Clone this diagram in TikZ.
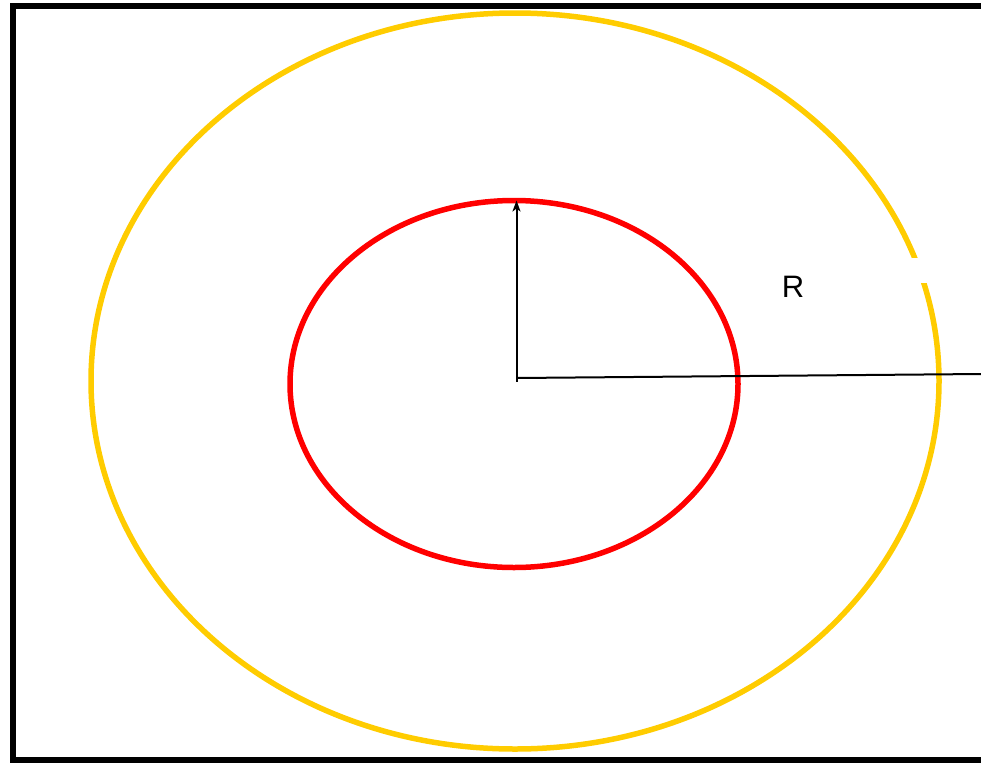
\documentclass[tikz,border=0pt]{standalone}
\usepackage{fontspec}
\setmainfont{Liberation Sans}
\usetikzlibrary{shapes.geometric,arrows.meta}
\definecolor{ringyellow}{HTML}{FFCC00}
\definecolor{ringred}{HTML}{FF0000}
\begin{document}
\begin{tikzpicture}[x=1pt,y=-1pt,
  ring/.style={ellipse,draw,line width=5.5pt,inner sep=0pt,outer sep=0pt},
  thin/.style={line width=2pt,black},
  lbl/.style={font=\fontsize{31}{36}\selectfont,inner sep=0pt}]
\useasboundingbox (0,0) rectangle (981,763);
\draw[line width=6pt] (12.5,6) rectangle (1000,760);
\node[ring,draw=ringyellow,minimum width=848pt,minimum height=736pt] (outer) at (515,381) {};
\fill[white] (900,258) rectangle (950,283);
\node[ring,draw=ringred,minimum width=448pt,minimum height=367pt] (inner) at (514,384) {};
\coordinate (c) at (516.5,381.5);
\coordinate (rend) at (981,374);
\draw[thin,-{Stealth[length=11pt,width=8pt,inset=3pt]}] (c) -- (inner.north -| c);
\draw[thin] (516.5,378) -- (rend);
\node[lbl] (R) at (793,287) {R};
\end{tikzpicture}
\end{document}
